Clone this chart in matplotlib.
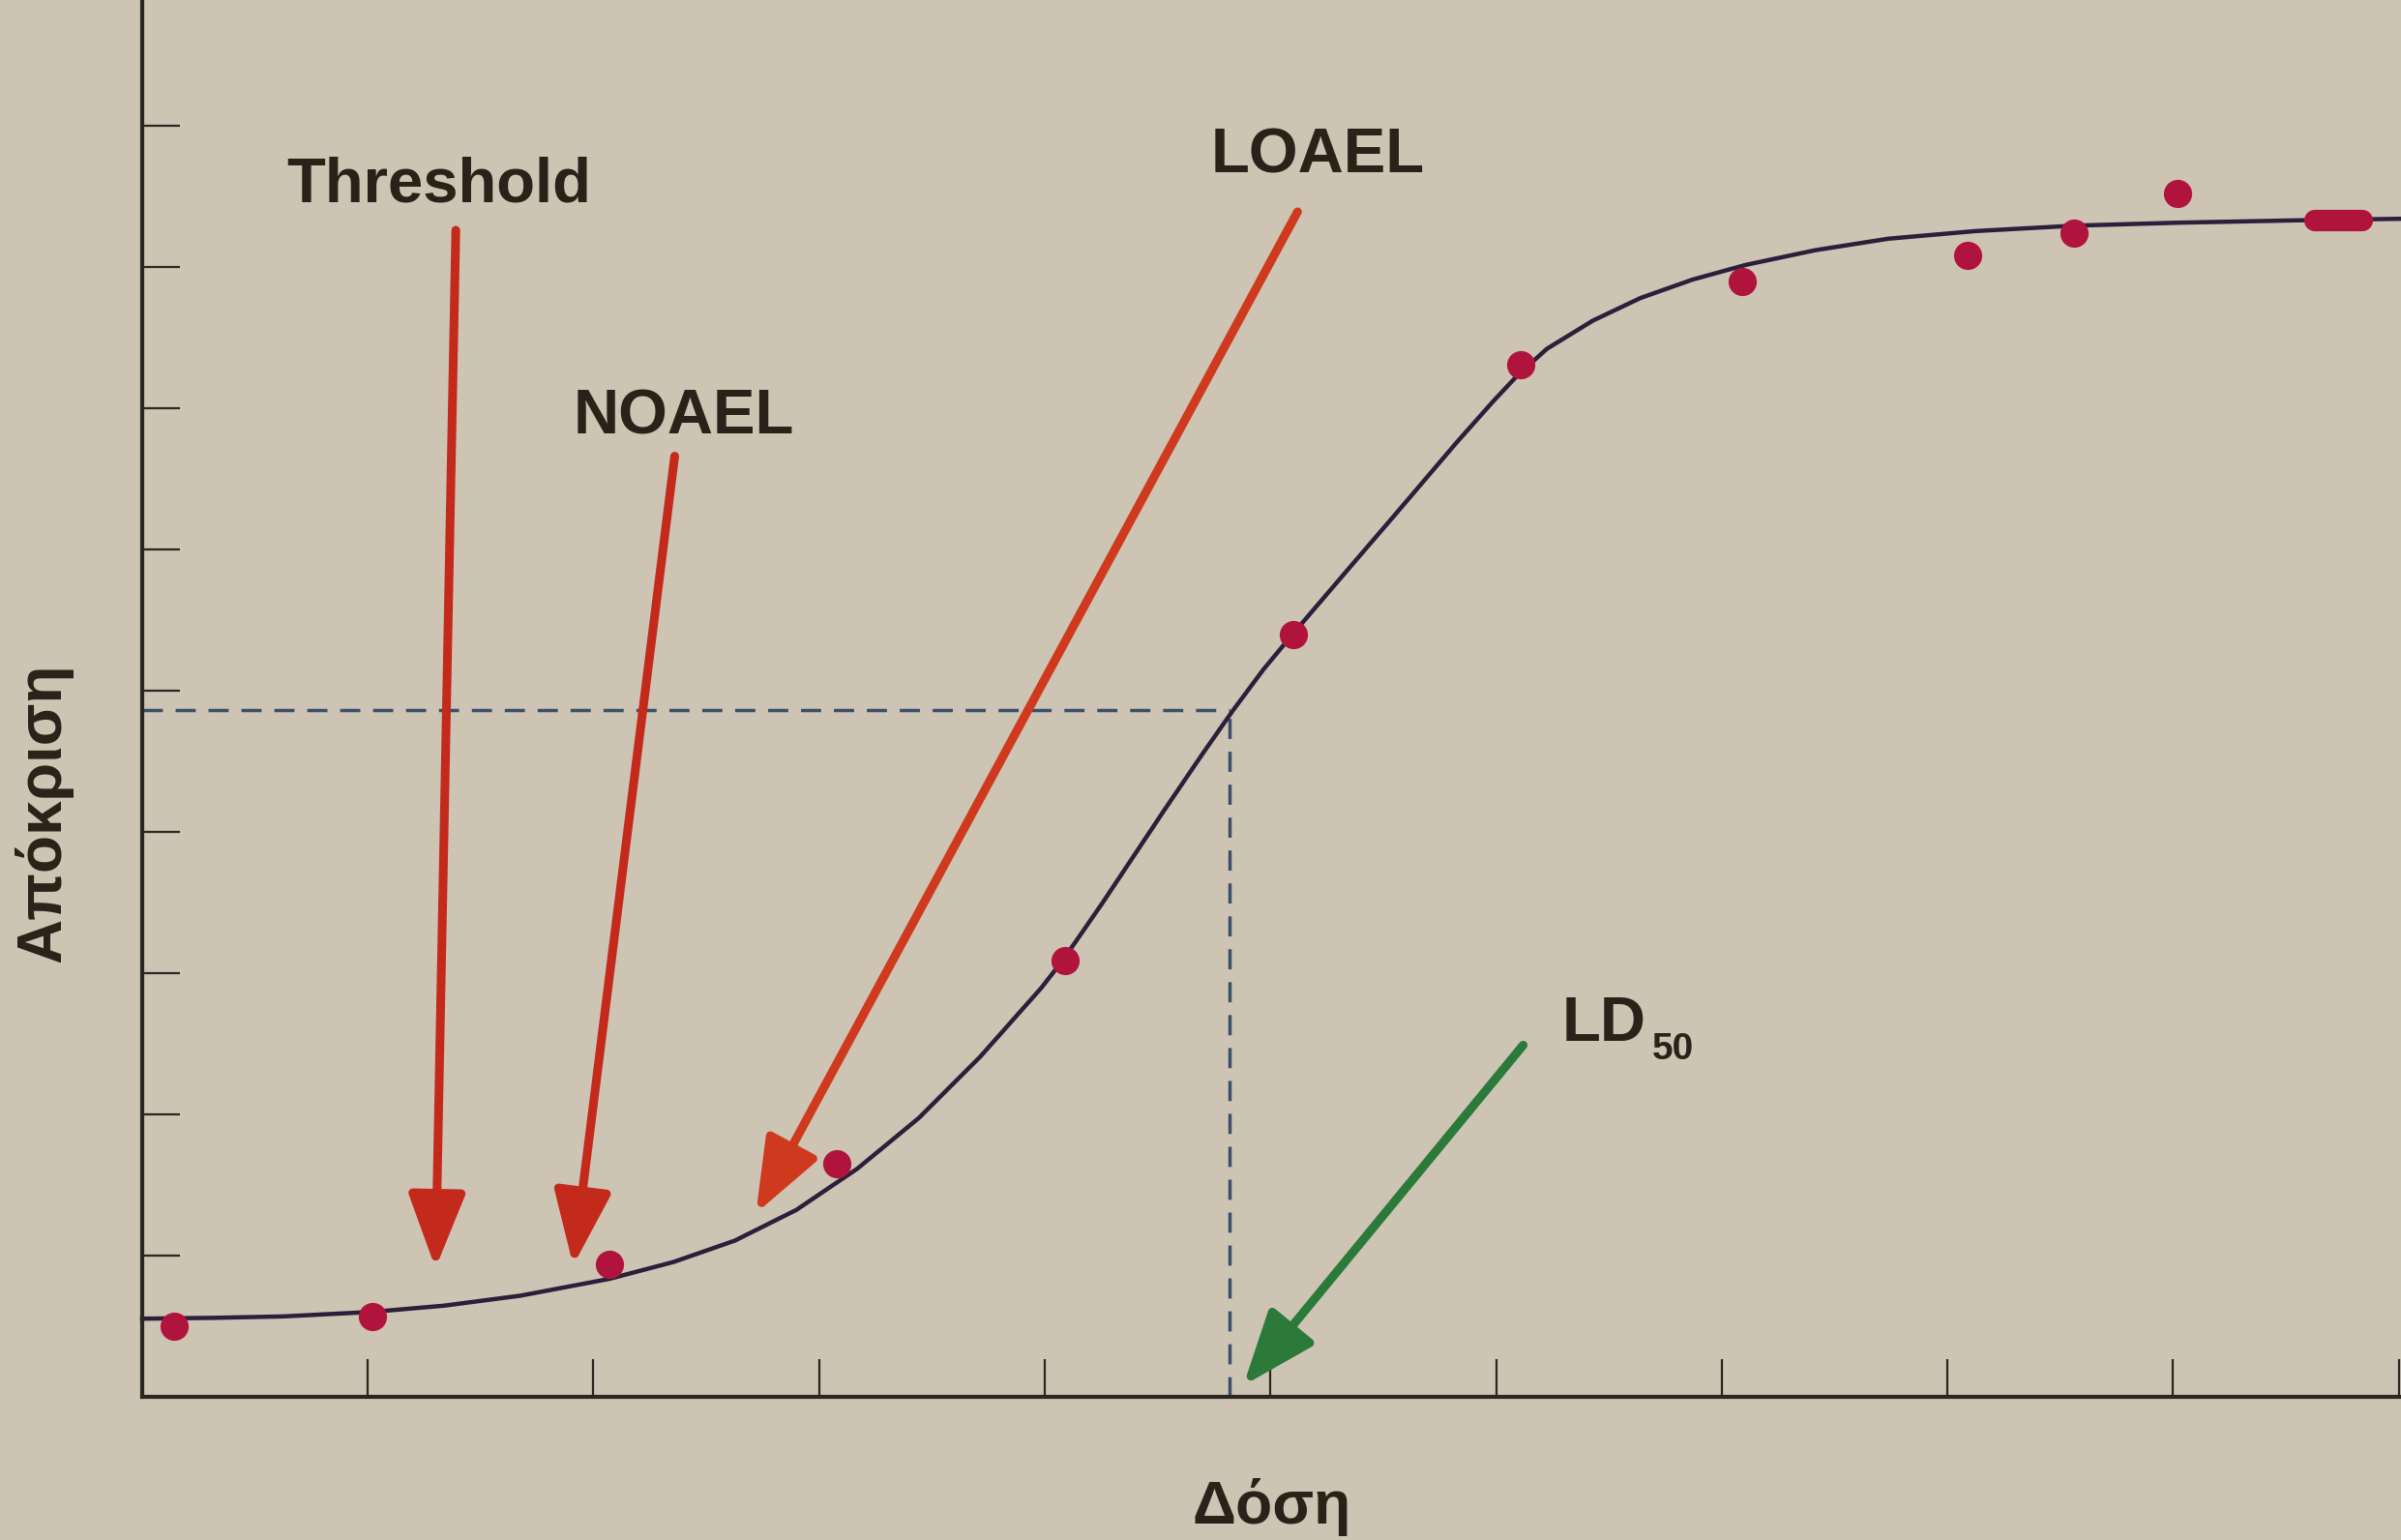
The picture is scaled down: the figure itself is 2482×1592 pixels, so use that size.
#!/usr/bin/env python3
"""
Dose-response curve (textbook figure)
-------------------------------------
Sigmoid response vs dose with measured points, Threshold / NOAEL / LOAEL
arrows and the LD50 read-off (dashed lines + green arrow).
"""

import matplotlib.pyplot as plt

# measured points (dose, response) in tick units
dose_points = [0.14, 1.02, 2.07, 3.08, 4.09, 5.10, 6.11, 7.09, 8.09, 8.56, 9.02]
resp_points = [0.50, 0.57, 0.94, 1.65, 3.09, 5.40, 7.31, 7.90, 8.08, 8.24, 8.52]

# the short bar drawn at the right end of the plateau
bar_dose = [9.63, 9.84]
bar_resp = [8.33, 8.33]

# fitted curve
curve_dose = [0.000, 0.319, 0.625, 1.019, 1.337, 1.677, 2.071, 2.356, 2.627,
              2.899, 3.170, 3.442, 3.714, 3.985, 4.080, 4.257, 4.528, 4.698,
              4.834, 4.969, 5.105, 5.343, 5.547, 5.825, 5.988, 6.096, 6.225,
              6.429, 6.640, 6.870, 7.108, 7.413, 7.739, 8.126, 8.561, 9.016,
              9.552, 10.01]
curve_resp = [0.553, 0.559, 0.569, 0.601, 0.645, 0.716, 0.835, 0.955, 1.106,
              1.323, 1.616, 1.974, 2.408, 2.896, 3.091, 3.500, 4.150, 4.550,
              4.860, 5.150, 5.412, 5.857, 6.236, 6.757, 7.050, 7.234, 7.420,
              7.620, 7.780, 7.910, 8.015, 8.118, 8.200, 8.254, 8.292, 8.313,
              8.330, 8.341]

# LD50 read-off
ld50_dose = 4.82
ld50_resp = 4.86

# annotation arrows: label, tail (dose, resp), tip (dose, resp)
arrow_labels = ['Threshold', 'NOAEL', 'LOAEL', 'LD50']
arrow_tails = [(1.39, 8.26), (2.36, 6.66), (5.12, 8.39), (6.12, 2.49)]
arrow_tips = [(1.30, 0.91), (1.91, 0.93), (2.72, 1.30), (4.88, 0.08)]

x_ticks = [1, 2, 3, 4, 5, 6, 7, 8, 9, 10]
y_ticks = [1, 2, 3, 4, 5, 6, 7, 8, 9]

PAPER = '#cdc4b4'
INK = '#2a2118'
FONTS = ['Liberation Sans', 'DejaVu Sans']


def main():
    plt.rcParams['font.family'] = FONTS

    fig = plt.figure(figsize=(24.82, 15.92), dpi=100)
    fig.patch.set_facecolor(PAPER)
    ax = fig.add_axes([0.0592, 0.0930, 0.9408, 0.9070])
    ax.set_facecolor('none')
    ax.set_xlim(0, 10.01)
    ax.set_ylim(0, 9.89)

    # axes: only left and bottom, inward ticks, no labels
    for side in ('top', 'right'):
        ax.spines[side].set_visible(False)
    for side in ('left', 'bottom'):
        ax.spines[side].set_linewidth(3)
        ax.spines[side].set_color('#2b2620')
    ax.set_xticks(x_ticks)
    ax.set_yticks(y_ticks)
    ax.tick_params(direction='in', length=28, width=1.6, color='#2b2620',
                   labelbottom=False, labelleft=False)

    # LD50 dashed read-off lines
    dash = dict(color='#3b4f6b', lw=2.5, linestyle=(0, (6, 3.8)), zorder=1)
    ax.plot([0, ld50_dose], [ld50_resp, ld50_resp], **dash)
    ax.plot([ld50_dose, ld50_dose], [0, ld50_resp], **dash)

    # curve + points
    ax.plot(curve_dose, curve_resp, color='#2b1f3a', lw=3.2, zorder=2,
            solid_joinstyle='round', clip_on=False)
    ax.plot(dose_points, resp_points, 'o', color='#b0143c', ms=21,
            markeredgewidth=0, zorder=3)
    ax.plot(bar_dose, bar_resp, color='#b0143c', lw=16,
            solid_capstyle='round', zorder=3)

    # arrows
    colors = ['#c42a1c', '#c42a1c', '#cf3a1e', '#2b7a3a']
    for tail, tip, c in zip(arrow_tails, arrow_tips, colors):
        ax.annotate('', xy=tip, xytext=tail,
                    arrowprops=dict(arrowstyle='-|>,head_length=0.78,head_width=0.30',
                                    color=c, lw=6.5, mutation_scale=60,
                                    shrinkA=0, shrinkB=0),
                    zorder=4)

    # arrow labels
    txt = dict(fontsize=47, fontweight='bold', color=INK, va='baseline')
    ax.text(1.317, 8.46, arrow_labels[0], ha='center', **txt)
    ax.text(2.40, 6.82, arrow_labels[1], ha='center', **txt)
    ax.text(5.21, 8.67, arrow_labels[2], ha='center', **txt)
    ax.text(6.29, 2.52, arrow_labels[3][:2], ha='left', **txt)
    ax.text(6.69, 2.39, arrow_labels[3][2:], ha='left', fontsize=28,
            fontweight='bold', color=INK, va='baseline')

    # axis titles
    ax.set_xlabel('Δόση', fontsize=45, fontweight='bold', color=INK)
    ax.xaxis.label.set_va('baseline')
    ax.xaxis.set_label_coords(0.5, -0.091)
    ax.set_ylabel('Απόκριση', fontsize=46, fontweight='bold', color=INK)
    ax.yaxis.label.set_va('baseline')
    ax.yaxis.set_label_coords(-0.036, 0.418)

    fig.savefig('out.png', dpi=100, facecolor=PAPER)
    plt.close(fig)


if __name__ == '__main__':
    main()
